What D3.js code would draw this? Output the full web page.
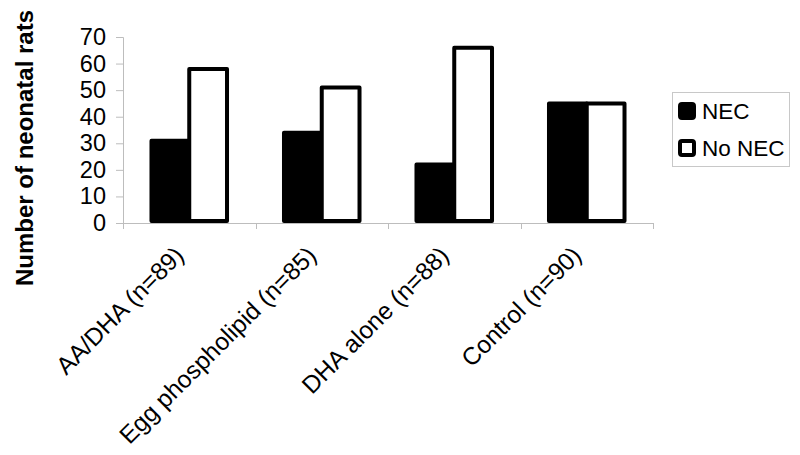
<!DOCTYPE html>
<html>
<head>
<meta charset="utf-8">
<script src="https://cdn.jsdelivr.net/npm/d3@7"></script>
<style>
  body { margin: 0; background: #fff; }
  svg { display: block; font-family: "Liberation Sans", Arial, sans-serif; }
</style>
</head>
<body>
<div id="chart"></div>
<script>
// data
var categories = ["AA/DHA (n=89)", "Egg phospholipid (n=85)", "DHA alone (n=88)", "Control (n=90)"];
var series = ["NEC", "No NEC"];
var nec = [31, 34, 22, 45];
var noNec = [58, 51, 66, 45];
var yTicks = [0, 10, 20, 30, 40, 50, 60, 70];

var w = 800, h = 455;
var plot = {left: 123, right: 653, top: 37, bottom: 223};

var svg = d3.select("#chart").append("svg")
  .attr("width", w).attr("height", h);

var x = d3.scaleBand()
  .domain(categories)
  .range([plot.left, plot.right])
  .paddingInner(0.43).paddingOuter(0.215);

var xs = d3.scaleBand().domain(series).range([0, x.bandwidth()]).padding(0);

var y = d3.scaleLinear().domain([0, 70]).range([plot.bottom, plot.top]);

var rows = categories.map(function(c, i) {
  return {cat: c, vals: [{s: "NEC", v: nec[i]}, {s: "No NEC", v: noNec[i]}]};
});

// y axis
var yAxis = svg.append("g")
  .attr("transform", "translate(" + plot.left + ",0)")
  .call(d3.axisLeft(y).tickValues(yTicks).tickSize(7).tickPadding(10));
yAxis.select(".domain").attr("stroke", "#bdbdbd");
yAxis.selectAll(".tick line").attr("stroke", "#bdbdbd");
yAxis.selectAll(".tick text")
  .attr("font-size", 23.5).attr("fill", "#000")
  .attr("font-family", "Liberation Sans, Arial, sans-serif");

// x axis line + ticks at category boundaries
var step = x.step();
var bounds = d3.range(categories.length + 1).map(function(i) { return plot.left + i * step; });
svg.append("line")
  .attr("x1", plot.left).attr("x2", plot.right)
  .attr("y1", plot.bottom + 0.5).attr("y2", plot.bottom + 0.5)
  .attr("stroke", "#bdbdbd");
svg.selectAll(".xtick").data(bounds).enter().append("line")
  .attr("class", "xtick")
  .attr("x1", function(d) { return Math.round(d) + 0.5; })
  .attr("x2", function(d) { return Math.round(d) + 0.5; })
  .attr("y1", plot.bottom).attr("y2", plot.bottom + 6)
  .attr("stroke", "#bdbdbd");

// bars
var groups = svg.selectAll(".grp").data(rows).enter().append("g")
  .attr("transform", function(d) { return "translate(" + x(d.cat) + ",0)"; });

groups.selectAll("rect").data(function(d) { return d.vals; }).enter().append("rect")
  .attr("x", function(d) { return xs(d.s); })
  .attr("width", xs.bandwidth())
  .attr("y", function(d) { return y(d.v); })
  .attr("height", function(d) { return y(0) - y(d.v) - 2; })
  .attr("fill", function(d) { return d.s == "NEC" ? "#000" : "#fff"; })
  .attr("stroke", "#000")
  .attr("stroke-width", 4)
  .attr("stroke-linejoin", "round");

// category labels, rotated
svg.selectAll(".xlab").data(categories).enter().append("text")
  .attr("class", "xlab")
  .attr("transform", function(d) {
    return "translate(" + (x(d) + x.bandwidth() / 2 - 4) + "," + (plot.bottom + 34) + ") rotate(-45)";
  })
  .attr("text-anchor", "end")
  .attr("font-size", 24.5)
  .text(function(d) { return d; });

// y title
svg.append("text")
  .attr("transform", "translate(33,148) rotate(-90)")
  .attr("text-anchor", "middle")
  .attr("font-size", 24)
  .attr("font-weight", "bold")
  .text("Number of neonatal rats");

// legend
var leg = svg.append("g").attr("transform", "translate(672,92)");
leg.append("rect")
  .attr("x", 0.5).attr("y", 0.5).attr("width", 117).attr("height", 74)
  .attr("fill", "#fff").attr("stroke", "#c8c8c8");

var li = leg.selectAll(".li").data(series).enter().append("g")
  .attr("transform", function(d, i) { return "translate(0," + (i * 37) + ")"; });
li.append("rect")
  .attr("x", 8).attr("y", 12).attr("width", 14).attr("height", 14)
  .attr("rx", 2)
  .attr("fill", function(d) { return d == "NEC" ? "#000" : "#fff"; })
  .attr("stroke", "#000").attr("stroke-width", 4);
li.append("text")
  .attr("x", 30).attr("y", 27)
  .attr("font-size", 22.5)
  .text(function(d) { return d; });
</script>
</body>
</html>
